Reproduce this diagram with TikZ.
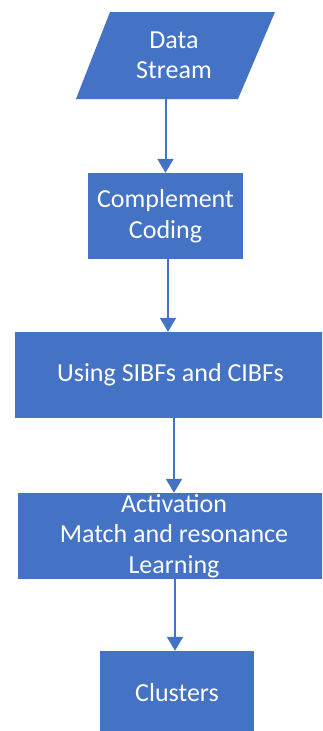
\documentclass[tikz,border=0pt]{standalone}
\usepackage{fontspec}
\setmainfont{Carlito}
\usetikzlibrary{arrows.meta,calc}
\definecolor{offblue}{HTML}{4472C4}
\tikzset{
  box/.style={fill=offblue, text=white, align=center, inner sep=0pt,
    font=\fontsize{26}{30.5}\selectfont},
  arr/.style={draw=offblue, line width=2pt, -{Triangle[width=16pt,length=14pt]}}
}
\begin{document}
\begin{tikzpicture}[x=1pt,y=-1pt]
\useasboundingbox (0,0) rectangle (322,731);
\clip (0,0) rectangle (322,731);
\fill[white] (0,0) rectangle (322,731);
% parallelogram
\fill[offblue] (110,12) -- (275,12) -- (238,99) -- (76,99) -- cycle;
\node[box, fill=none, minimum height=87pt, minimum width=120pt] (data) at (174,55.5) {Data\\Stream};
\node[box, minimum width=155pt, minimum height=86pt] (comp) at (165.5,216) {Complement\\Coding};
\node[box, minimum width=311pt, minimum height=86pt] (using) at (170.5,375) {Using SIBFs and CIBFs};
\node[box, minimum width=312pt, minimum height=86pt] (act) at (174,536) {Activation\\Match and resonance\\Learning};
\node[box, minimum width=154pt, minimum height=84pt] (clu) at (177,693) {Clusters};
\draw[arr] (data.south -| comp.north) -- (comp.north);
\draw[arr] ($(comp.south)+(2.5,0)$) -- ($(using.north)+(-2.5,0)$);
\draw[arr] (using.south -| act.north) -- (act.north);
\draw[arr] (act.south -| act.north) ++(1,0) -- ($(clu.north)+(-2,0)$);
\end{tikzpicture}
\end{document}
